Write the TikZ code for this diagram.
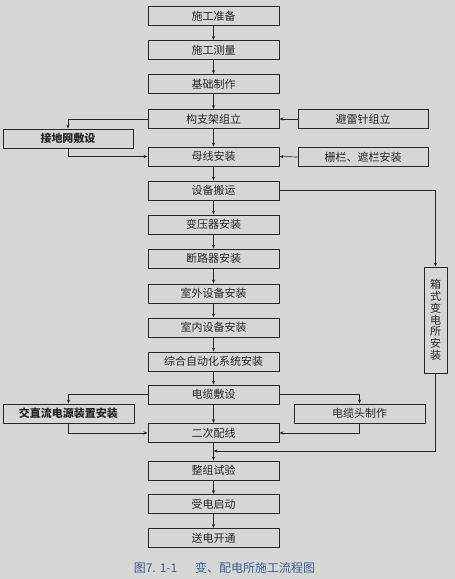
\documentclass[tikz,border=0pt]{standalone}
\usepackage{fontspec}
\setmainfont{Noto Sans CJK SC}
\newfontfamily\cjk{Noto Sans CJK SC}
\usetikzlibrary{arrows.meta}
\definecolor{bg}{HTML}{D6D7D4}
\definecolor{ink}{HTML}{262626}
\definecolor{capblue}{HTML}{3F5E9C}
\tikzset{
  box/.style={draw=ink, line width=0.9pt, minimum height=19pt, inner sep=0pt, font=\cjk\fontsize{11}{12}\selectfont, text=ink},
  mainbox/.style={box, minimum width=131pt},
  sidebox/.style={box, minimum width=130pt},
  arr/.style={draw=ink, line width=0.7pt, -{Stealth[length=4pt,width=3.2pt]}},
  ln/.style={draw=ink, line width=0.7pt}
}
\begin{document}
\begin{tikzpicture}[x=1pt,y=-1pt]
\fill[bg] (0,0) rectangle (455,579);
\useasboundingbox (0,0) rectangle (455,579);
% main column
\node[mainbox] (n1) at (213.5,16) {施工准备};
\node[mainbox] (n2) at (213.5,50) {施工测量};
\node[mainbox] (n3) at (213.5,84) {基础制作};
\node[mainbox] (n4) at (213.5,119) {构支架组立};
\node[mainbox] (n5) at (213.5,156.5) {母线安装};
\node[mainbox] (n6) at (213.5,190.5) {设备搬运};
\node[mainbox] (n7) at (213.5,224.5) {变压器安装};
\node[mainbox] (n8) at (213.5,258.5) {断路器安装};
\node[mainbox] (n9) at (213.5,293.5) {室外设备安装};
\node[mainbox] (n10) at (213.5,327.5) {室内设备安装};
\node[mainbox] (n11) at (213.5,361.5) {综合自动化系统安装};
\node[mainbox] (n12) at (213.5,394.5) {电缆敷设};
\node[mainbox] (n13) at (213.5,433) {二次配线};
\node[mainbox] (n14) at (213.5,470.5) {整组试验};
\node[mainbox] (n15) at (213.5,504) {受电启动};
\node[mainbox] (n16) at (213.5,538) {送电开通};
% side boxes
\node[sidebox, font=\cjk\bfseries\fontsize{11}{12}\selectfont] (gnd) at (68,138.5) {接地网敷设};
\node[sidebox] (blq) at (363,119) {避雷针组立};
\node[sidebox] (fence) at (363,157) {栅栏、遮栏安装};
\node[sidebox, minimum width=131pt, font=\cjk\bfseries\fontsize{11}{12}\selectfont] (acdc) at (68.5,413.5) {交直流电源装置安装};
\node[sidebox, minimum width=131pt] (chead) at (359.5,413.5) {电缆头制作};
\node[box, minimum width=23pt, minimum height=106pt, align=center, font=\cjk\fontsize{11}{11.8}\selectfont] (xiang) at (435.5,320) {箱\\式\\变\\电\\所\\安\\装};
\coordinate (j) at (213.5,451);
% main arrows
\draw[arr] (n1) -- (n2);
\draw[arr] (n2) -- (n3);
\draw[arr] (n3) -- (n4);
\draw[arr] (n4) -- (n5);
\draw[arr] (n5) -- (n6);
\draw[arr] (n6) -- (n7);
\draw[arr] (n7) -- (n8);
\draw[arr] (n8) -- (n9);
\draw[arr] (n9) -- (n10);
\draw[arr] (n10) -- (n11);
\draw[arr] (n11) -- (n12);
\draw[arr] (n12) -- (n13);
\draw[arr] (n13) -- (n14);
\draw[arr] (n14) -- (n15);
\draw[arr] (n15) -- (n16);
% side connections
\draw[arr] (n4.west) -| (gnd.north);
\draw[arr] (gnd.south) |- (n5.west);
\draw[arr] (blq.west) -- (n4.east);
\draw[arr] (fence.west) -- (n5.east);
\draw[arr] (n6.east) -| (xiang.north);
\draw[arr] (xiang.south) |- (j);
\draw[arr] (n12.west) -| (acdc.north);
\draw[arr] (acdc.south) |- (n13.west);
\draw[arr] (n12.east) -| (chead.north);
\draw[arr] (chead.south) |- (n13.east);
% caption
\node[text=capblue, font=\cjk\fontsize{12}{13}\selectfont] (cap) at (224.5,568) {图7.\,\,1-1\enspace\quad 变、配电所施工流程图};
\end{tikzpicture}
\end{document}
